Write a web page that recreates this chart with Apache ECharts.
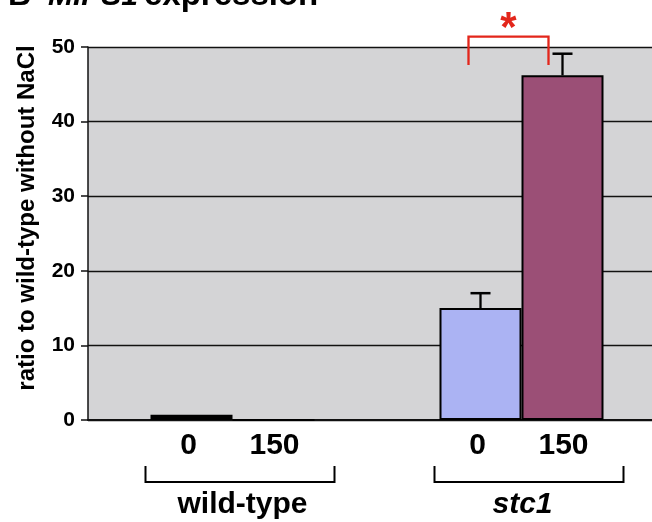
<!DOCTYPE html>
<html>
<head>
<meta charset="utf-8">
<script src="https://cdn.jsdelivr.net/npm/echarts@6/dist/echarts.min.js"></script>
<style>
html,body{margin:0;padding:0;background:#fff;overflow:hidden;width:652px;height:522px;}
#chart{width:668px;height:522px;}
</style>
</head>
<body>
<div id="chart"></div>
<script>
// ---- data ----
const categories = ['wild-type', 'stc1'];
const naclLevels = ['0', '150'];
const ratio0 = [0.7, 15.0];
const ratio150 = [0, 46.2];
const err0 = [0, 2.0];
const err150 = [0, 2.9];
const yMin = 0, yMax = 50, yStep = 10;
const sigBracket = [[1, 51.4, 47.6]]; // [category index, bracket top, arm end]
const sigMark = '*';

// ---- style ----
const FONT = '"Liberation Sans", Arial, sans-serif';
const BAR_W = 82;
const colors = ['#abb3f3', '#9b4f76'];
const RED = '#e3261b';

const chart = echarts.init(document.getElementById('chart'));

const errData = [];
[err0, err150].forEach((errs, s) => {
  const vals = s === 0 ? ratio0 : ratio150;
  errs.forEach((e, i) => { if (e > 0) errData.push([i, vals[i], e, s]); });
});

const option = {
  animation: false,
  textStyle: { fontFamily: FONT },
  grid: { left: 88, top: 47, right: 2, bottom: 102, show: true, backgroundColor: '#d4d4d6', borderWidth: 0 },
  xAxis: {
    type: 'category', data: categories,
    axisLine: { lineStyle: { color: '#111', width: 2 } },
    axisTick: { show: false }, axisLabel: { show: false }
  },
  yAxis: {
    type: 'value', min: yMin, max: yMax, interval: yStep,
    axisLine: { show: true, lineStyle: { color: '#111', width: 1.5 } },
    axisTick: { show: true, inside: false, length: 7, lineStyle: { color: '#111', width: 1.5 } },
    axisLabel: { margin: 13, color: '#000', fontSize: 21, fontWeight: 'bold', fontFamily: FONT },
    splitLine: { show: true, lineStyle: { color: '#111', width: 1.3 } }
  },
  series: [
    {
      name: naclLevels[0], type: 'bar', barWidth: BAR_W, barGap: '0%',
      data: ratio0.map((v, i) => i === 0 ? { value: v, itemStyle: { color: '#000' } } : v),
      itemStyle: { color: colors[0], borderColor: '#000', borderWidth: 2 }
    },
    {
      name: naclLevels[1], type: 'bar', barWidth: BAR_W, barGap: '0%',
      data: ratio150,
      itemStyle: { color: colors[1], borderColor: '#000', borderWidth: 2 }
    },
    {
      type: 'custom', data: errData, z: 5,
      renderItem: function (params, api) {
        const cat = api.value(0), v = api.value(1), e = api.value(2), s = api.value(3);
        const p0 = api.coord([cat, v]);
        const p1 = api.coord([cat, v + e]);
        const x = p0[0] + (s - 0.5) * BAR_W;
        return {
          type: 'group', children: [
            { type: 'line', shape: { x1: x, y1: p0[1], x2: x, y2: p1[1] }, style: { stroke: '#000', lineWidth: 2.3 } },
            { type: 'line', shape: { x1: x - 10, y1: p1[1], x2: x + 10, y2: p1[1] }, style: { stroke: '#000', lineWidth: 2.5 } }
          ]
        };
      }
    },
    {
      type: 'custom', data: sigBracket, clip: false, z: 6,
      renderItem: function (params, api) {
        const cat = api.value(0), top = api.value(1), arm = api.value(2);
        const pt = api.coord([cat, top]);
        const pa = api.coord([cat, arm]);
        const xl = pt[0] - BAR_W / 2 - 12;
        const xr = pt[0] + BAR_W / 2 - 14;
        return {
          type: 'group', children: [
            { type: 'polyline', shape: { points: [[xl, pa[1]], [xl, pt[1]], [xr, pt[1]], [xr, pa[1]]] },
              style: { stroke: RED, lineWidth: 2.3, fill: null } },
            { type: 'text', x: (xl + xr) / 2, y: pt[1] - 7,
              style: { text: sigMark, fill: RED, font: 'bold 42px ' + FONT, align: 'center', verticalAlign: 'middle' } }
          ]
        };
      }
    },
    {
      type: 'custom', data: categories.map((c, i) => [i, 0]), clip: false, z: 6,
      renderItem: function (params, api) {
        const i = api.value(0);
        const c = api.coord([i, 0]);
        const cx = c[0], by = c[1];
        const bl = cx - 87, br = cx + 102;
        return {
          type: 'group', children: [
            { type: 'text', x: cx - BAR_W / 2 - 3, y: by + 25.6,
              style: { text: naclLevels[0], fill: '#000', font: 'bold 30px ' + FONT, align: 'center', verticalAlign: 'middle' } },
            { type: 'text', x: cx + BAR_W / 2 + 1, y: by + 25.6,
              style: { text: naclLevels[1], fill: '#000', font: 'bold 30px ' + FONT, align: 'center', verticalAlign: 'middle' } },
            { type: 'polyline', shape: { points: [[bl, by + 46], [bl, by + 62], [br, by + 62], [br, by + 46]] },
              style: { stroke: '#000', lineWidth: 2, fill: null } },
            { type: 'text', x: cx + (i === 0 ? 10 : 1), y: by + 85,
              style: { text: categories[i], fill: '#000',
                font: (i === 1 ? 'italic ' : '') + 'bold 30px ' + FONT, align: 'center', verticalAlign: 'middle' } }
          ]
        };
      }
    }
  ],
  graphic: [
    { type: 'text', x: 8, y: 12, style: { text: 'B', fill: '#000', font: 'bold 32px ' + FONT, verticalAlign: 'bottom' } },
    { type: 'text', x: 48, y: 12, style: { text: 'MIPS1', fill: '#000', font: 'italic bold 30px ' + FONT, verticalAlign: 'bottom' } },
    { type: 'text', x: 144, y: 12, style: { text: 'expression', fill: '#000', font: 'bold 33px ' + FONT, verticalAlign: 'bottom' } },
    { type: 'text', x: 27, y: 218, rotation: Math.PI / 2,
      style: { text: 'ratio to wild-type without NaCl', fill: '#000', font: 'bold 24px ' + FONT, align: 'center', verticalAlign: 'middle' } }
  ]
};
chart.setOption(option);
</script>
</body>
</html>
